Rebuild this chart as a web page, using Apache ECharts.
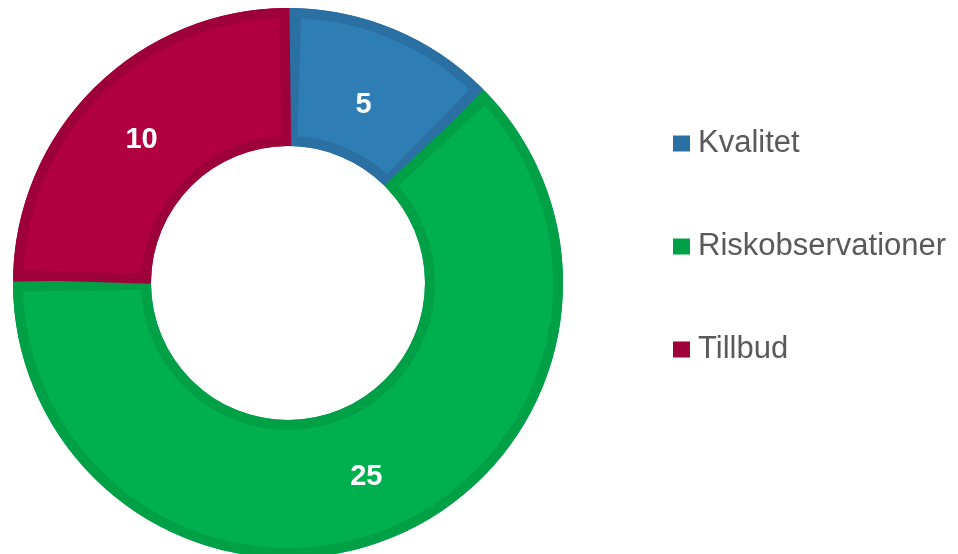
<!DOCTYPE html>
<html>
<head>
<meta charset="utf-8">
<script src="https://cdn.jsdelivr.net/npm/echarts@6/dist/echarts.min.js"></script>
<style>
  html, body { margin: 0; padding: 0; background: #fff; }
  #chart { width: 958px; height: 554px; }
</style>
</head>
<body>
<div id="chart"></div>
<script>
const categories = ['Kvalitet', 'Riskobservationer', 'Tillbud'];
const values = [5, 25, 10];
const fillColors = ['#2E7DB5', '#00B04F', '#B0003F'];
const edgeColors = ['#2A70A3', '#00A047', '#9E0039'];
// nudge labels a bit toward where the original puts them
const labelOffsets = [[-6, 14], [0, 0], [0, 6]];

const chart = echarts.init(document.getElementById('chart'));

// bottom ring only fills the slivers between slices, top ring has the dark edge as its border
const edgeData = categories.map((name, i) => ({
    name, value: values[i], itemStyle: { color: edgeColors[i] }
}));
const fillData = categories.map((name, i) => ({
    name, value: values[i],
    itemStyle: { color: fillColors[i], borderColor: edgeColors[i] },
    label: { offset: labelOffsets[i] }
}));

chart.setOption({
    animation: false,
    legend: {
        orient: 'vertical',
        left: 668,
        top: 123,
        icon: 'rect',
        itemWidth: 17,
        itemHeight: 16,
        itemGap: 72,
        data: categories,
        textStyle: { fontFamily: 'Liberation Sans', fontSize: 31, color: '#595959', padding: [0, 0, 0, 3] }
    },
    color: fillColors,
    series: [
        {
            type: 'pie',
            center: [288, 283],
            radius: [137, 275],
            startAngle: 90,
            silent: true,
            label: { show: false },
            labelLine: { show: false },
            data: edgeData
        },
        {
            type: 'pie',
            center: [288, 283],
            radius: [142, 270],
            startAngle: 89.5,
            padAngle: 2.5,
            silent: true,
            itemStyle: { borderWidth: 10, borderJoin: 'miter' },
            label: {
                show: true,
                position: 'inside',
                fontFamily: 'Liberation Sans',
                fontSize: 29,
                fontWeight: 'bold',
                color: '#fff',
                formatter: '{c}'
            },
            labelLine: { show: false },
            data: fillData
        }
    ]
});
</script>
</body>
</html>
